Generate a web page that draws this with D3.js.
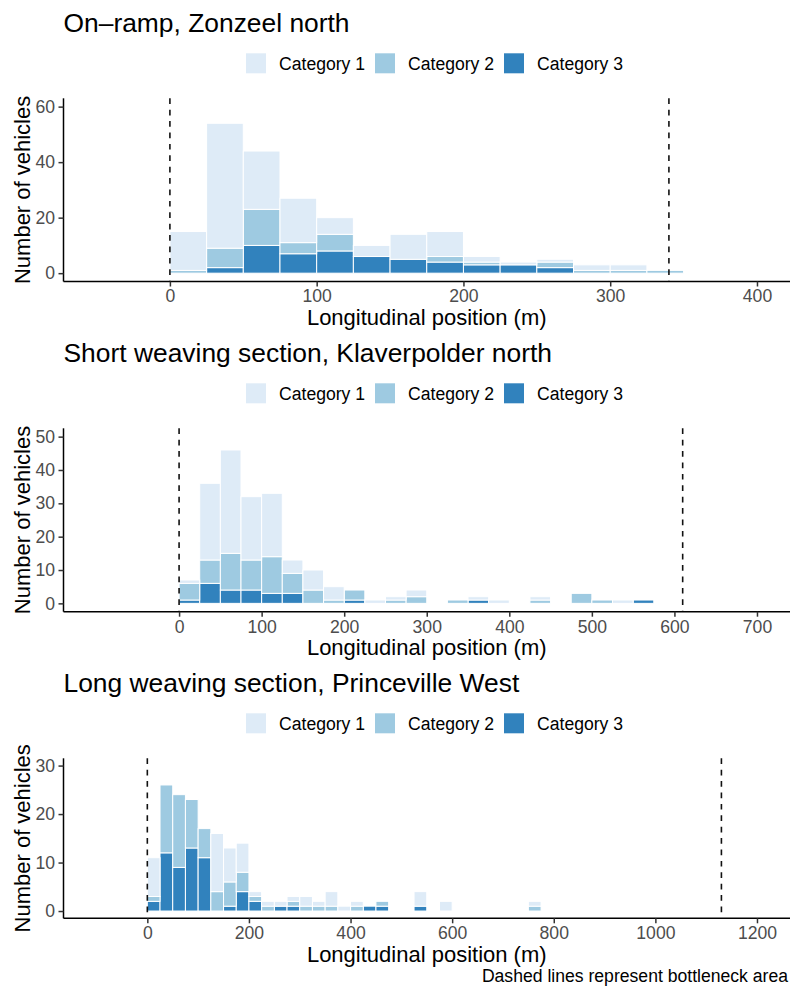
<!DOCTYPE html>
<html>
<head>
<meta charset="utf-8">
<script src="https://cdn.jsdelivr.net/npm/d3@7"></script>
<style>
  html, body { margin: 0; padding: 0; background: #fff; }
  svg text { font-family: "Liberation Sans", Arial, Helvetica, sans-serif; }
</style>
</head>
<body>
<svg id="chart" width="792" height="988"></svg>
<script>
// ---------- DATA ----------
const categories = ["Category 1", "Category 2", "Category 3"];
const colors = ["#DEEBF7", "#9ECAE1", "#3182BD"];
const binWidth = 25;

const titles = [
  "On\u2013ramp, Zonzeel north",
  "Short weaving section, Klaverpolder north",
  "Long weaving section, Princeville West"
];

// Panel 1: On-ramp
const p1Bins = [0,25,50,75,100,125,150,175,200,225,250,275,300,325];
const p1Cat1 = [14,45,21,16,6,4,9,9,2,1,1,2,2,0];
const p1Cat2 = [1,7,13,4,6,0,0,2,1,0,2,1,1,1];
const p1Cat3 = [0,2,10,7,8,6,5,4,3,3,2,0,0,0];
const p1Bottleneck = [0, 340];
const p1XTicks = [0,100,200,300,400];
const p1YTicks = [0,20,40,60];
const p1XLimits = [-50, 400];
const p1YLimits = [0, 60];

// Panel 2: Short weaving section
const p2Bins = [0,25,50,75,100,125,150,175,200,225,250,275,325,350,375,425,475,500,525,550];
const p2Cat1 = [1,23,31,19,19,4,6,4,0,1,1,2,0,1,1,1,0,0,1,0];
const p2Cat2 = [5,7,11,9,11,6,4,1,3,0,1,2,1,0,0,1,3,1,0,0];
const p2Cat3 = [1,6,4,4,3,3,0,0,1,0,0,0,0,1,0,0,0,0,0,1];
const p2Bottleneck = [0, 610];
const p2XTicks = [0,100,200,300,400,500,600,700];
const p2YTicks = [0,10,20,30,40,50];
const p2XLimits = [-100, 700];
const p2YLimits = [0, 50];

// Panel 3: Long weaving section
const p3Bins = [0,25,50,75,100,125,150,175,200,225,250,275,300,325,350,375,400,425,450,525,575,750];
const p3Cat1 = [8,0,0,0,0,12,7,6,1,1,1,1,2,1,3,1,1,0,0,3,2,1];
const p3Cat2 = [1,14,15,10,6,4,5,4,1,1,0,1,1,1,1,0,1,0,1,0,0,1];
const p3Cat3 = [2,12,9,13,11,0,1,4,2,0,1,1,0,0,0,0,0,1,1,1,0,0];
const p3Bottleneck = [0, 1130];
const p3XTicks = [0,200,400,600,800,1000,1200];
const p3YTicks = [0,10,20,30];
const p3XLimits = [-100, 1200];
const p3YLimits = [0, 30];

const caption = "Dashed lines represent bottleneck area";
const xTitle = "Longitudinal position (m)";
const yTitle = "Number of vehicles";

// ---------- LAYOUT ----------
const svg = d3.select("#chart");
const plotLeft = 63.5, plotRight = 790;
const FONT = '"Liberation Sans", Arial, Helvetica, sans-serif';

const panels = [
  {bins: p1Bins, c: [p1Cat1, p1Cat2, p1Cat3], bn: p1Bottleneck, xt: p1XTicks, yt: p1YTicks, xl: p1XLimits, yl: p1YLimits,
   top: 98.3, bottom: 281.5},
  {bins: p2Bins, c: [p2Cat1, p2Cat2, p2Cat3], bn: p2Bottleneck, xt: p2XTicks, yt: p2YTicks, xl: p2XLimits, yl: p2YLimits,
   top: 428.3, bottom: 611.7},
  {bins: p3Bins, c: [p3Cat1, p3Cat2, p3Cat3], bn: p3Bottleneck, xt: p3XTicks, yt: p3YTicks, xl: p3XLimits, yl: p3YLimits,
   top: 758.3, bottom: 918.3}
];

function expand(lim) {
  const d = (lim[1] - lim[0]) * 0.05;
  return [lim[0] - d, lim[1] + d];
}

panels.forEach((p, pi) => {
  const g = svg.append("g");
  const x = d3.scaleLinear().domain(expand(p.xl)).range([plotLeft, plotRight]);
  const y = d3.scaleLinear().domain(expand(p.yl)).range([p.bottom, p.top]);

  // title
  g.append("text").attr("x", 63.5).attr("y", p.top - 66.6)
    .attr("font-size", 26.4).attr("fill", "#000").text(titles[pi]);

  // legend
  const legY = p.top - 35;
  const legX = [246, 375, 504];
  categories.forEach((cat, i) => {
    g.append("rect").attr("x", legX[i]).attr("y", legY - 10)
      .attr("width", 20).attr("height", 20).attr("fill", colors[i]);
    g.append("text").attr("x", legX[i] + 33).attr("y", legY + 6.3)
      .attr("font-size", 17.6).attr("fill", "#000").text(cat);
  });

  // stacked bars
  const rows = p.bins.map((b, i) => ({b: b, k0: p.c[0][i], k1: p.c[1][i], k2: p.c[2][i]}));
  const stack = d3.stack().keys(["k2", "k1", "k0"]);
  const series = stack(rows);
  series.forEach((s) => {
    const ci = {k0: 0, k1: 1, k2: 2}[s.key];
    g.selectAll(null).data(s.filter(d => d[1] > d[0])).enter().append("rect")
      .attr("x", d => x(d.data.b))
      .attr("width", d => x(d.data.b + binWidth) - x(d.data.b))
      .attr("y", d => y(d[1]))
      .attr("height", d => y(d[0]) - y(d[1]))
      .attr("fill", colors[ci])
      .attr("stroke", "#fff").attr("stroke-width", 1);
  });

  // dashed bottleneck lines
  g.selectAll(null).data(p.bn).enter().append("line")
    .attr("x1", d => x(d)).attr("x2", d => x(d))
    .attr("y1", p.top).attr("y2", p.bottom)
    .attr("stroke", "#111").attr("stroke-width", 1.6)
    .attr("stroke-dasharray", "5.7,5.7");

  // axes
  const xAxis = d3.axisBottom(x).tickValues(p.xt).tickSize(5).tickPadding(4).tickFormat(d3.format("d"));
  const gx = g.append("g").attr("transform", `translate(0,${p.bottom})`).call(xAxis);
  gx.select(".domain").attr("d", `M${plotLeft},0H${plotRight}`).attr("stroke", "#000").attr("stroke-width", 1.5);
  gx.selectAll(".tick line").attr("stroke", "#333").attr("stroke-width", 1.5);
  gx.selectAll(".tick text").attr("font-size", 17.6).attr("fill", "#4D4D4D")
    .attr("font-family", FONT).attr("dy", "0.68em");

  const yAxis = d3.axisLeft(y).tickValues(p.yt).tickSize(5).tickPadding(3.5);
  const gy = g.append("g").attr("transform", `translate(${plotLeft},0)`).call(yAxis);
  gy.select(".domain").attr("d", `M0,${p.top}V${p.bottom}`).attr("stroke", "#000").attr("stroke-width", 1.5);
  gy.selectAll(".tick line").attr("stroke", "#333").attr("stroke-width", 1.5);
  gy.selectAll(".tick text").attr("font-size", 17.6).attr("fill", "#4D4D4D")
    .attr("font-family", FONT);

  // axis titles
  g.append("text").attr("x", (plotLeft + plotRight) / 2).attr("y", p.bottom + 43.5)
    .attr("text-anchor", "middle").attr("font-size", 22).attr("fill", "#000").text(xTitle);
  g.append("text")
    .attr("transform", `translate(29.5,${(p.top + p.bottom) / 2}) rotate(-90)`)
    .attr("text-anchor", "middle").attr("font-size", 22).attr("fill", "#000").text(yTitle);
});

svg.append("text").attr("x", 788).attr("y", 981.5).attr("text-anchor", "end")
  .attr("font-size", 17.6).attr("fill", "#000").text(caption);
</script>
</body>
</html>
